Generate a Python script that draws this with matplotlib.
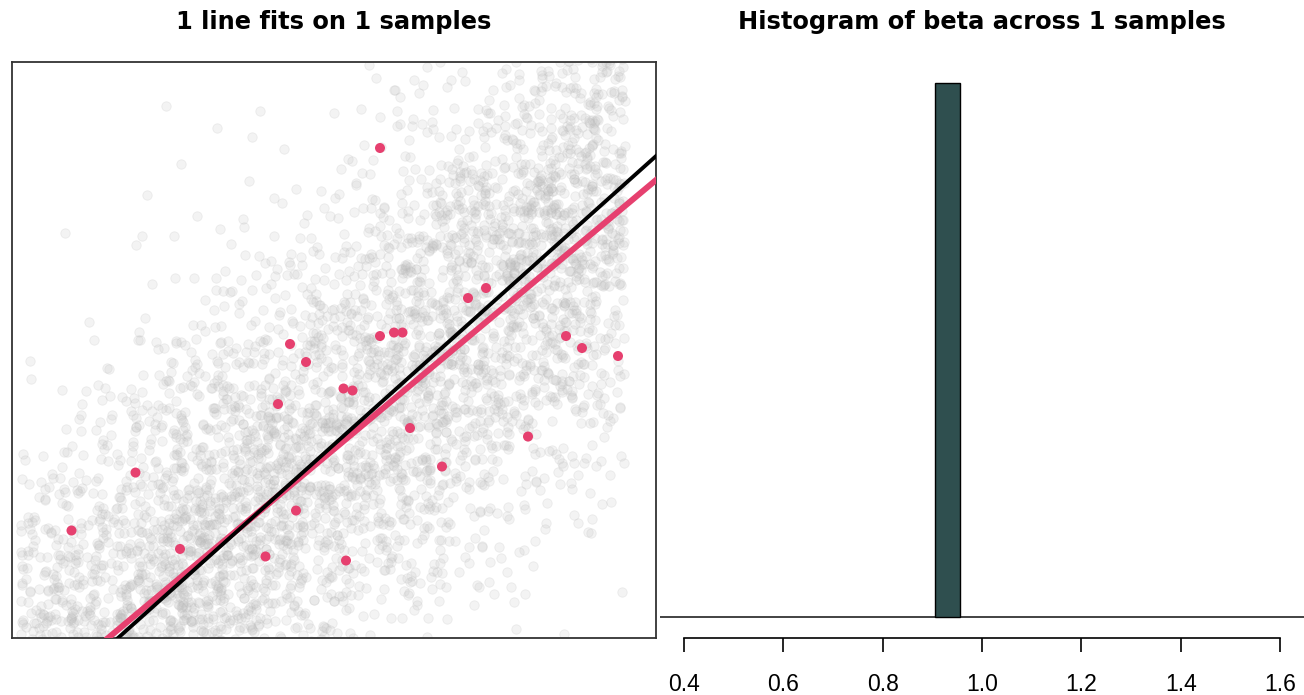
import numpy as np
import matplotlib
matplotlib.use("Agg")
import matplotlib.pyplot as plt

# ---------------- data ----------------
# red sample points (left panel)
sample_x = [0.46, 1.34, 1.52, 0.46, 0.60, 0.685, 2.32, 2.48, 2.84, -0.44, -0.28,
            0.095, 0.185, -0.56, 0.76, 1.94, 1.08, -1.985, -0.38, -2.625, -1.54,
            -0.685, 0.12]
sample_y = [3.31, 1.635, 1.747, 1.211, 1.25, 1.25, 1.211, 1.077, 0.988, 1.122, 0.921,
            0.625, 0.603, 0.452, 0.184, 0.089, -0.246, -0.313, -0.737, -0.960, -1.166,
            -1.25, -1.295]

# true population line (black) and fitted line on the sample (pink)
true_intercept, true_slope = 0.0, 1.0
fit_intercept, fit_slope = -0.052, 0.933

# histogram of beta estimates (right panel)
beta_estimates = [0.931]
hist_bin_width = 0.05
hist_ticks = [0.4, 0.6, 0.8, 1.0, 1.2, 1.4, 1.6]
hist_tick_labels = ["0.4", "0.6", "0.8", "1.0", "1.2", "1.4", "1.6"]

# population backdrop (grey cloud): parameters
pop_n = 5000
pop_x_range = (-3.14, 2.91)
pop_noise_sd = 1.45

titles = ["1 line fits on 1 samples", "Histogram of beta across 1 samples"]

# ---------------- figure ----------------
W, H = 1304, 695
fig = plt.figure(figsize=(W / 100, H / 100), dpi=100)

ax1 = fig.add_axes([12 / W, 57 / H, 644 / W, 576 / H])
ax2 = fig.add_axes([660 / W, 57 / H, 644 / W, 576 / H])

# left panel
rng = np.random.default_rng(7)
pop_x = rng.uniform(pop_x_range[0], pop_x_range[1], pop_n)
pop_y = true_intercept + true_slope * pop_x + rng.normal(0, pop_noise_sd, pop_n)
ax1.scatter(pop_x, pop_y, s=46, facecolor=(0.74, 0.74, 0.74, 0.17),
            edgecolor=(0.72, 0.72, 0.72, 0.22), linewidths=0.6, zorder=1)
ax1.scatter(sample_x, sample_y, s=52, color="#E6406F", edgecolor="none", zorder=3)
ax1.axline((0, fit_intercept), slope=fit_slope, color="#E6406F", lw=4.3, zorder=4)
ax1.axline((0, true_intercept), slope=true_slope, color="black", lw=2.8, zorder=5)
ax1.set_xlim(-3.22, 3.22)
ax1.set_ylim(-2.16, 4.27)
ax1.set_xticks([])
ax1.set_yticks([])
for sp in ax1.spines.values():
    sp.set_color("#333333")
    sp.set_linewidth(1.3)
ax1.set_title(titles[0], fontsize=17.4, fontweight="bold", family="DejaVu Sans", pad=24)

# right panel
edges = [beta_estimates[0] - hist_bin_width / 2, beta_estimates[0] + hist_bin_width / 2]
ax2.hist(beta_estimates, bins=edges, color="#2F4F4F", edgecolor="black", linewidth=1.0, zorder=3)
ax2.axhline(0, color="#222222", lw=1.2, zorder=2)
ax2.set_xlim(0.352, 1.648)
ax2.set_ylim(-0.04, 1.04)
for name in ["top", "right", "left"]:
    ax2.spines[name].set_visible(False)
ax2.spines["bottom"].set_bounds(hist_ticks[0], hist_ticks[-1])
ax2.spines["bottom"].set_linewidth(1.2)
ax2.set_yticks([])
ax2.set_xticks(hist_ticks)
ax2.set_xticklabels(hist_tick_labels, family="Liberation Sans", fontsize=16.5)
ax2.tick_params(axis="x", direction="out", length=10, width=1.2, pad=15)
ax2.set_title(titles[1], fontsize=17.4, fontweight="bold", family="DejaVu Sans", pad=24)

fig.savefig("out.png", dpi=100)
